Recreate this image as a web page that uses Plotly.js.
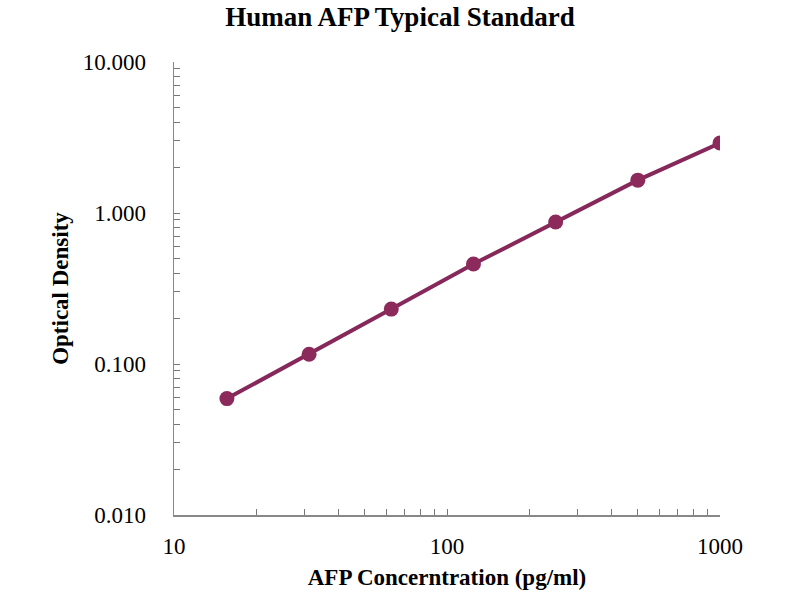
<!DOCTYPE html>
<html>
<head>
<meta charset="utf-8">
<script src="https://cdn.plot.ly/plotly-3.0.1.min.js"></script>
<style>
  html, body { margin: 0; padding: 0; background: #fff; }
  #chart { width: 800px; height: 600px; }
</style>
</head>
<body>
<div id="chart"></div>
<script>
// standard curve values
var concentration = [15.625, 31.25, 62.5, 125, 250, 500, 1000];
var opticalDensity = [0.059, 0.116, 0.231, 0.459, 0.871, 1.65, 2.91];

// log tick positions: every 1..9 in each decade, labels only on powers of ten
var xTickVals = [10, 20, 30, 40, 50, 60, 70, 80, 90,
                 100, 200, 300, 400, 500, 600, 700, 800, 900, 1000];
var xTickText = ['10', '', '', '', '', '', '', '', '',
                 '100', '', '', '', '', '', '', '', '', '1000'];
var yTickVals = [0.01, 0.02, 0.03, 0.04, 0.05, 0.06, 0.07, 0.08, 0.09,
                 0.1, 0.2, 0.3, 0.4, 0.5, 0.6, 0.7, 0.8, 0.9,
                 1, 2, 3, 4, 5, 6, 7, 8, 9, 10];
var yTickText = ['0.010', '', '', '', '', '', '', '', '',
                 '0.100', '', '', '', '', '', '', '', '',
                 '1.000', '', '', '', '', '', '', '', '', '10.000'];

var serif = 'Liberation Serif, Times New Roman, serif';
var purple = '#8c2a5c';

var trace = {
  x: concentration,
  y: opticalDensity,
  type: 'scatter',
  mode: 'lines+markers',
  line: { color: '#86295a', width: 4 },
  marker: { color: purple, size: 15 },
  hoverinfo: 'x+y'
};

var layout = {
  width: 800, height: 600,
  paper_bgcolor: '#fff', plot_bgcolor: '#fff',
  showlegend: false,
  margin: { l: 174, r: 80, t: 62, b: 85 },
  font: { family: serif, color: '#000', size: 22 },
  title: {
    text: '<b>Human AFP Typical Standard</b>',
    font: { family: serif, size: 27, color: '#000' },
    x: 0.5, xanchor: 'center', y: 0.988, yanchor: 'top'
  },
  xaxis: {
    type: 'log',
    range: [1, 3],
    tickvals: xTickVals, ticktext: xTickText,
    ticks: 'inside', ticklen: 6, tickcolor: '#777', tickwidth: 1,
    showline: true, linecolor: '#888', linewidth: 1.5,
    showgrid: false, zeroline: false,
    ticklabelstandoff: 10,
    tickfont: { family: serif, size: 23, color: '#000' },
    title: { text: '<b>AFP Concerntration (pg/ml)</b>', font: { family: serif, size: 23, color: '#000' }, standoff: 11 }
  },
  yaxis: {
    type: 'log',
    range: [-2, 1],
    tickvals: yTickVals, ticktext: yTickText,
    ticks: 'inside', ticklen: 6, tickcolor: '#777', tickwidth: 1,
    showline: true, linecolor: '#888', linewidth: 1.5,
    showgrid: false, zeroline: false,
    ticklabelstandoff: 22,
    tickfont: { family: serif, size: 23, color: '#000' },
    title: { text: '<b>Optical Density</b>', font: { family: serif, size: 23, color: '#000' }, standoff: 7 }
  }
};

Plotly.newPlot('chart', [trace], layout, { displayModeBar: false, staticPlot: true });
</script>
</body>
</html>
